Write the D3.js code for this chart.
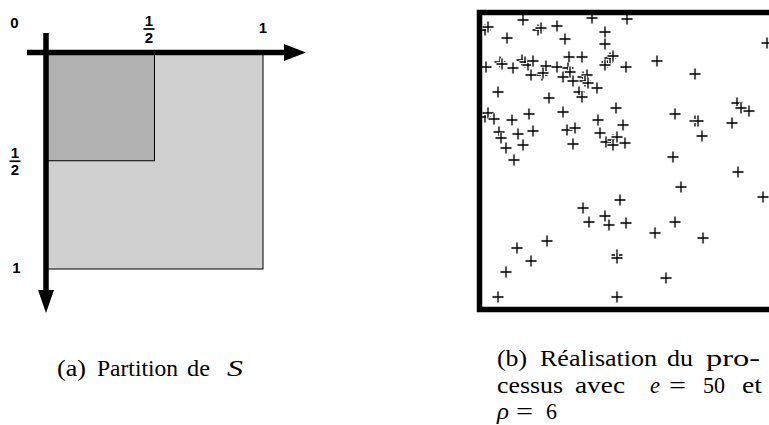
<!DOCTYPE html>
<html><head><meta charset="utf-8">
<script src="https://cdn.jsdelivr.net/npm/d3@7"></script>
<style>html,body{margin:0;padding:0;background:#fff;}svg{display:block;}</style>
</head><body>
<script>
// ---- Panel (a): partition of S ----
const squares = [
  {x0: 0, y0: 0, x1: 1,   y1: 1,   fill: "#d0d0d0"},
  {x0: 0, y0: 0, x1: 0.5, y1: 0.5, fill: "#b1b1b1"}
];
const tickValues = [0.5, 1];
// ---- Panel (b): realisation of the process (points in 0..300 units) ----
const px = [8,11,46,61,64,80,115,150,30,88,128,128,9,23,25,36,45,48,51,56,69,80,92,105,91,93,54,65,66,86,96,106,110,108,111,120,130,133,136,128,21,72,102,105,139,290,149,180,218,260,264,272,8,11,17,35,52,86,121,22,24,41,56,29,46,37,90,98,96,123,129,136,140,136,198,218,221,225,255,146,148,196,261,204,286,143,106,112,128,132,70,40,54,29,21,140,140,140,149,178,198,226,189];
const py = [20,17,10,20,18,16,8,9,28,29,22,34,57,52,54,58,50,52,55,51,56,57,47,47,58,62,65,65,63,67,71,67,65,71,73,78,52,48,46,55,82,88,82,87,98,33,57,51,64,93,98,101,107,103,109,110,104,102,110,122,128,124,121,138,135,150,120,118,134,123,132,130,127,135,104,111,111,126,113,115,133,147,162,177,187,190,198,212,206,215,231,238,251,262,287,245,248,287,213,223,212,228,268];

const W = 769, H = 425;
const svg = d3.select("body").append("svg").attr("width", W).attr("height", H);

// ---------- Panel (a) ----------
const xa = d3.scaleLinear().domain([0, 1]).range([46, 263]);
const ya = d3.scaleLinear().domain([0, 1]).range([52.5, 269]);
const ga = svg.append("g");
ga.selectAll("rect.sq").data(squares).enter().append("rect")
  .attr("class", "sq")
  .attr("x", d => xa(d.x0)).attr("y", d => ya(d.y0))
  .attr("width", d => xa(d.x1) - xa(d.x0)).attr("height", d => ya(d.y1) - ya(d.y0))
  .attr("fill", d => d.fill).attr("stroke", "#000").attr("stroke-width", 1);

// axes with arrows
ga.append("line").attr("x1", 27).attr("x2", 286).attr("y1", ya(0)).attr("y2", ya(0))
  .attr("stroke", "#000").attr("stroke-width", 5.5);
ga.append("path").attr("d", `M284,${ya(0)-8.5}L306,${ya(0)}L284,${ya(0)+8.5}Z`).attr("fill", "#000");
ga.append("line").attr("x1", xa(0)).attr("x2", xa(0)).attr("y1", 33).attr("y2", 292)
  .attr("stroke", "#000").attr("stroke-width", 5.5);
ga.append("path").attr("d", `M${xa(0)-8},290L${xa(0)},313L${xa(0)+8},290Z`).attr("fill", "#000");

function txt(g, x, y, s) {
  return g.append("text").attr("x", x).attr("y", y).attr("text-anchor", "middle")
    .attr("font-family", "'Liberation Sans', Arial, sans-serif")
    .attr("font-weight", "bold").attr("font-size", "15px").attr("fill", "#000").text(s);
}
function frac(g, cx, cy) {
  txt(g, cx, cy - 3, "1");
  g.append("line").attr("x1", cx - 5.5).attr("x2", cx + 5.5).attr("y1", cy).attr("y2", cy)
    .attr("stroke", "#000").attr("stroke-width", 1.7);
  txt(g, cx, cy + 14, "2");
}
txt(ga, 14.5, 28, "0");
tickValues.forEach(v => {
  if (v === 0.5) { frac(ga, xa(v) - 5.5, 29); frac(ga, 15, ya(v) + 0.5); }
  else { txt(ga, xa(v), 32.5, "1"); txt(ga, 16.5, ya(v) + 4, "1"); }
});

// ---------- Panel (b) ----------
const xb = d3.scaleLinear().domain([0, 300]).range([477, 777]);
const yb = d3.scaleLinear().domain([0, 300]).range([10, 310]);
const gb = svg.append("g");
const pts = px.map((x, i) => ({x: x, y: py[i]}));
const arm = 5.5;
const cross = gb.selectAll("g.pt").data(pts).enter().append("g").attr("class", "pt")
  .attr("transform", d => `translate(${xb(d.x)},${yb(d.y)})`);
cross.append("path").attr("d", `M${-arm},0H${arm}M0,${-arm}V${arm}`)
  .attr("stroke", "#f3f3f3").attr("stroke-width", 4);
cross.append("path").attr("d", `M${-arm},0H${arm}M0,${-arm}V${arm}`)
  .attr("stroke", "#000").attr("stroke-width", 1.3);
gb.append("rect").attr("x", 479.5).attr("y", 12.5).attr("width", 297).attr("height", 297)
  .attr("fill", "none").attr("stroke", "#000").attr("stroke-width", 5.5);

// ---------- Captions ----------
const serif = "'Liberation Serif', 'DejaVu Serif', serif";
function words(list, y) {
  list.forEach(w => {
    const t = svg.append("text").attr("x", w[0]).attr("y", y)
      .attr("font-family", serif).attr("font-size", "23.5px").attr("fill", "#000").text(w[1]);
    if (w[2]) t.attr("font-style", "italic");
    if (w[3]) t.attr("textLength", w[3]).attr("lengthAdjust", "spacingAndGlyphs");
  });
}
words([[57, "(a)", 0, 29], [97, "Partition", 0, 81], [187, "de", 0, 23], [227, "S", 1, 16]], 376);
words([[497, "(b)", 0, 30], [540, "Réalisation", 0, 117], [667, "du", 0, 26], [706, "pro-", 0, 54]], 366);
words([[497, "cessus", 0, 66], [575, "avec", 0, 50], [650, "e", 1, 10], [669, "=", 0, 17], [703, "50", 0, 22], [742, "et", 0, 20]], 393);
words([[497, "ρ", 1, 12], [516, "=", 0, 17], [546, "6", 0, 11]], 419);
</script>
</body></html>
